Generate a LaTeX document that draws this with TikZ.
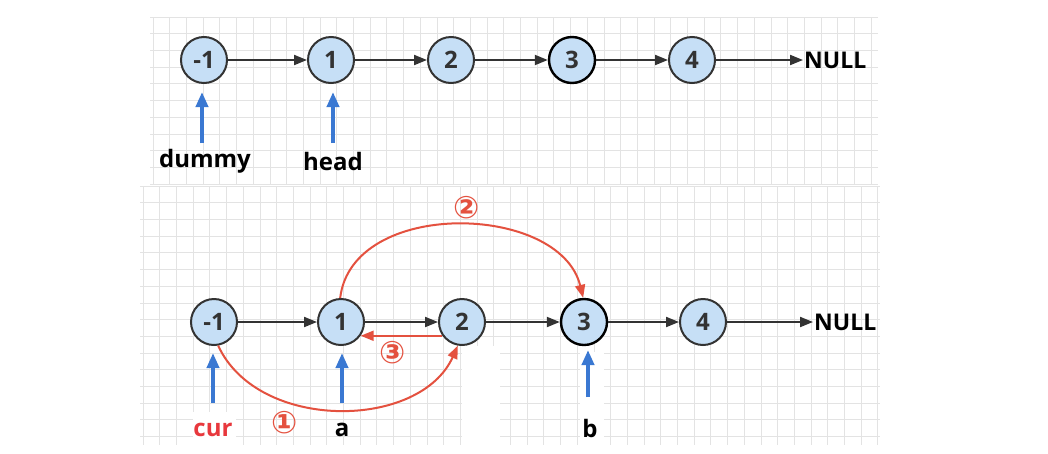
\documentclass[tikz,border=0pt]{standalone}
\usepackage{fontspec}
\setmainfont{Open Sans}
\newfontfamily\symfont{DejaVu Sans}
\usetikzlibrary{arrows.meta}
\definecolor{gridc}{HTML}{E3E3E3}
\definecolor{nodefill}{HTML}{C6DFF6}
\definecolor{edgec}{HTML}{333333}
\definecolor{redc}{HTML}{E4513F}
\definecolor{curc}{HTML}{E8383D}
\definecolor{bluec}{HTML}{3A78D2}
\tikzset{
  nd/.style={circle, draw=edgec, line width=2pt, fill=nodefill, minimum size=46pt, inner sep=0pt, text=edgec, font=\fontsize{24}{24}\selectfont\bfseries},
  ndk/.style={nd, draw=black, line width=2.4pt},
  lbl/.style={font=\fontsize{24}{24}\selectfont\bfseries, text=black, inner sep=1pt},
  nullt/.style={font=\fontsize{23}{23}\selectfont\bfseries, text=black, inner sep=1pt, anchor=west},
  nxt/.style={draw=edgec, line width=2pt, -{Triangle[length=13pt,width=10pt]}},
  ptr/.style={draw=bluec, line width=3.8pt, -{Triangle[length=15pt,width=12pt]}},
  redarr/.style={draw=redc, line width=2pt, -{Triangle[length=13pt,width=10pt]}},
  circnum/.style={font=\fontsize{31}{31}\selectfont\symfont\bfseries, text=redc, inner sep=0pt},
  gridl/.style={draw=gridc, line width=0.8pt}
}
\begin{document}
\begin{tikzpicture}[x=1pt,y=-1pt]
\useasboundingbox (0,0) rectangle (1048,453);
\fill[white] (0,0) rectangle (1048,453);
% top grid
\foreach \k in {0,...,43} \draw[gridl] (153+\k*16.7,17) -- (153+\k*16.7,185);
\foreach \k in {0,...,10} \draw[gridl] (150,17+\k*16.7) -- (878,17+\k*16.7);
% bottom grid
\foreach \k in {0,...,44} \draw[gridl] (143+\k*16.7,186) -- (143+\k*16.7,445);
\foreach \k in {0,...,15} \draw[gridl] (140,186+\k*16.7) -- (880,186+\k*16.7);
% white patches
\fill[white] (462,346) rectangle (500,447);
\fill[white] (193,412) rectangle (236,447);
\fill[white] (580,352) rectangle (604,447);

% ---------- top list ----------
\node[nd] (t0) at (204,60) {-1};
\node[nd] (t1) at (331,60) {1};
\node[nd] (t2) at (451,60) {2};
\node[ndk] (t3) at (572,60) {3};
\node[nd] (t4) at (692,60) {4};
\node[nullt] (tnull) at (803,60) {NULL};
\draw[nxt] (t0) -- (t1);
\draw[nxt] (t1) -- (t2);
\draw[nxt] (t2) -- (t3);
\draw[nxt] (t3) -- (t4);
\draw[nxt] (t4) -- (tnull);
\node[lbl] (dummy) at (205,161) {dummy};
\node[lbl] (head) at (333,161) {head};
\coordinate (dtail) at (202,143);
\coordinate (dtip) at (202,92);
\coordinate (htail) at (333,143);
\coordinate (htip) at (333,92);
\draw[ptr] (dtail) -- (dtip);
\draw[ptr] (htail) -- (htip);

% ---------- bottom list ----------
\node[nd] (b0) at (214,322) {-1};
\node[nd] (b1) at (341,322) {1};
\node[nd] (b2) at (462,322) {2};
\node[ndk] (b3) at (584,322) {3};
\node[nd] (b4) at (703,322) {4};
\node[nullt] (bnull) at (813,322) {NULL};
\draw[nxt] (b0) -- (b1);
\draw[nxt] (b1) -- (b2);
\draw[nxt] (b2) -- (b3);
\draw[nxt] (b3) -- (b4);
\draw[nxt] (b4) -- (bnull);

\node[lbl, text=curc] (cur) at (213,430) {cur};
\node[lbl] (la) at (342,430) {a};
\node[lbl] (lb) at (590,428) {b};
\coordinate (ctail) at (213,403);
\coordinate (ctip) at (213,353);
\coordinate (atail) at (342,403);
\coordinate (atip) at (342,353);
\coordinate (btail) at (588,397);
\coordinate (btip) at (588,350);
\draw[ptr] (ctail) -- (ctip);
\draw[ptr] (atail) -- (atip);
\draw[ptr] (btail) -- (btip);

% red steps
\draw[redarr] (b0.-80) .. controls (258,432) and (420,430) .. (b2.-100);
\draw[redarr] (b1.92) .. controls (352,198) and (560,203) .. (b3.92);
\draw[redarr] (b2.-145) -- (b1.-35);
\node[circnum] (s1) at (285,423) {①};
\node[circnum] (s2) at (467,208) {②};
\node[circnum] (s3) at (393,353) {③};
\end{tikzpicture}
\end{document}
